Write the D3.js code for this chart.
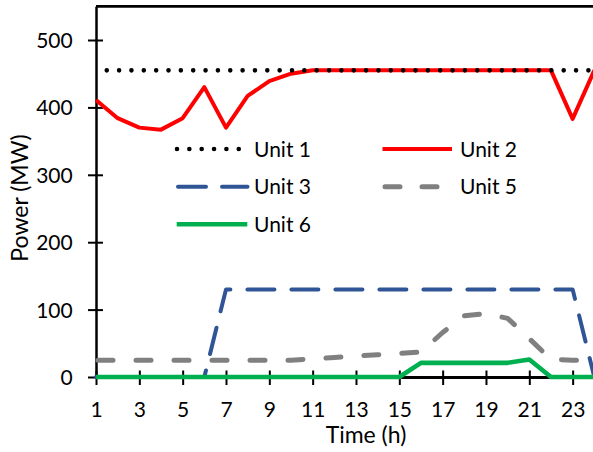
<!DOCTYPE html>
<html>
<head>
<meta charset="utf-8">
<script src="https://cdn.jsdelivr.net/npm/d3@7"></script>
<style>
  html, body { margin: 0; padding: 0; background: #fff; }
  svg { display: block; font-family: Lato, "Noto Sans", sans-serif; }
</style>
</head>
<body>
<svg id="chart" width="593" height="452"></svg>
<script>
// Hourly dispatch of each generating unit (MW), hours 1..24
const hours = d3.range(1, 25);
const unit1 = [455,455,455,455,455,455,455,455,455,455,455,455,455,455,455,455,455,455,455,455,455,455,455,455];
const unit2 = [411,384,370,367,384,430,370,417,439,450,455,455,455,455,455,455,455,455,455,455,455,455,383,455];
const unit3 = [0,0,0,0,0,0,130,130,130,130,130,130,130,130,130,130,130,130,130,130,130,130,130,0];
const unit5 = [25,25,25,25,25,25,25,25,25,25,27,29,31,33,35,37,66,91,94,87,57,26,25,25];
const unit6 = [0,0,0,0,0,0,0,0,0,0,0,0,0,0,0,21,21,21,21,21,26,0,0,0];

const xTicks = [1,3,5,7,9,11,13,15,17,19,21,23];
const yTicks = [0,100,200,300,400,500];

const svg = d3.select("#chart");

const x = d3.scaleLinear().domain([1, 24]).range([96, 594.3]);
const y = d3.scaleLinear().domain([0, 550]).range([377, 6.3]);

// Top border of the plot frame
svg.append("line")
  .attr("x1", x(1)).attr("x2", x(24) + 2)
  .attr("y1", y(550)).attr("y2", y(550))
  .attr("stroke", "#000").attr("stroke-width", 2.8);

// Series styles
const series = [
  { name: "Unit 2", values: unit2, color: "#FF0000", width: 4,   dash: null,     cap: "butt",  offset: 0 },
  { name: "Unit 1", values: unit1, color: "#000000", width: 4.6, dash: "0 12.35", cap: "round", offset: 1.6 },
  { name: "Unit 3", values: unit3, color: "#2F5597", width: 4,   dash: "27 17",  cap: "round", offset: 0 },
  { name: "Unit 5", values: unit5, color: "#808080", width: 5,   dash: "15 23",  cap: "round", offset: -2 },
  { name: "Unit 6", values: unit6, color: "#00B050", width: 4.6, dash: null,     cap: "butt",  offset: 0 }
];

// Axes (drawn before the series so the lines sit on top of the x axis)
const yAxis = d3.axisLeft(y).tickValues(yTicks).tickSizeInner(8).tickSizeOuter(0).tickPadding(15.3);
const gy = svg.append("g").attr("transform", `translate(${x(1)},0)`).call(yAxis);
gy.select(".domain").attr("stroke", "#000").attr("stroke-width", 2.5);
gy.selectAll(".tick line").attr("x1", 7).attr("stroke", "#000").attr("stroke-width", 2);
gy.selectAll(".tick text")
  .attr("font-size", 21).attr("fill", "#000").attr("dy", "0.36em")
  .style("font-family", "Lato, 'Noto Sans', sans-serif");

const xAxis = d3.axisBottom(x).tickValues(xTicks).tickSizeInner(8).tickSizeOuter(0).tickPadding(0);
const gx = svg.append("g").attr("transform", `translate(0,${y(0)})`).call(xAxis);
gx.select(".domain").attr("stroke", "#000").attr("stroke-width", 2.8);
gx.selectAll(".tick line").attr("y1", -6.5).attr("stroke", "#000").attr("stroke-width", 2);
gx.selectAll(".tick text")
  .attr("font-size", 21).attr("fill", "#000")
  .attr("y", 39.7).attr("dy", 0)
  .style("font-family", "Lato, 'Noto Sans', sans-serif");

// Series lines
const line = d3.line().x((d, i) => x(hours[i])).y(d => y(d));
const gLines = svg.append("g");
series.forEach(s => {
  gLines.append("path")
    .datum(s.values)
    .attr("d", line)
    .attr("fill", "none")
    .attr("stroke", s.color)
    .attr("stroke-width", s.width)
    .attr("stroke-linejoin", "round")
    .attr("stroke-linecap", s.cap)
    .attr("stroke-dasharray", s.dash)
    .attr("stroke-dashoffset", s.offset);
});

// Legend
const legendItems = [
  { key: "Unit 1", col: 0, row: 0, x1: 177,   x2: 241 },
  { key: "Unit 2", col: 1, row: 0, x1: 382.5, x2: 452 },
  { key: "Unit 3", col: 0, row: 1, x1: 178,   x2: 247.5 },
  { key: "Unit 5", col: 1, row: 1, x1: 385,   x2: 440 },
  { key: "Unit 6", col: 0, row: 2, x1: 176.7, x2: 247.3 }
];
const rowY = [149, 186.7, 224.3];
const textX = [254, 460];
const gLeg = svg.append("g");
legendItems.forEach(it => {
  const s = series.find(d => d.name === it.key);
  gLeg.append("line")
    .attr("x1", it.x1).attr("x2", it.x2)
    .attr("y1", rowY[it.row]).attr("y2", rowY[it.row])
    .attr("stroke", s.color)
    .attr("stroke-width", s.width)
    .attr("stroke-linecap", s.cap)
    .attr("stroke-dasharray", it.key === "Unit 5" ? "15 22" : (it.key === "Unit 3" ? "28 16" : s.dash));
  gLeg.append("text")
    .attr("x", textX[it.col]).attr("y", rowY[it.row])
    .attr("dy", "0.36em")
    .attr("font-size", 21)
    .attr("fill", "#000")
    .text(it.key);
});

// Axis titles
svg.append("text")
  .attr("x", 366).attr("y", 443.3)
  .attr("text-anchor", "middle")
  .attr("font-size", 23).attr("fill", "#000")
  .text("Time (h)");

svg.append("text")
  .attr("transform", "translate(28,198) rotate(-90)")
  .attr("text-anchor", "middle")
  .attr("font-size", 23).attr("fill", "#000")
  .text("Power (MW)");
</script>
</body>
</html>
